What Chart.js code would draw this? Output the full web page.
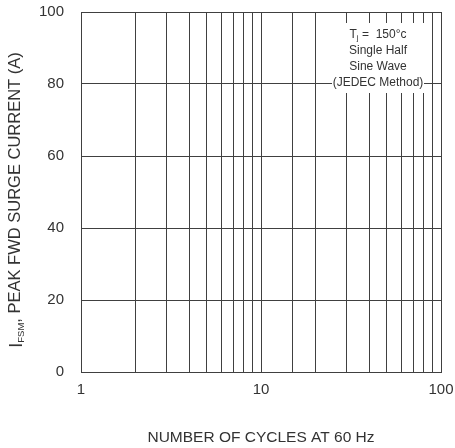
<!DOCTYPE html>
<html>
<head>
<meta charset="utf-8">
<script src="https://cdn.jsdelivr.net/npm/chart.js@4"></script>
<style>
html, body { margin: 0; padding: 0; background: #fff; }
#wrap { width: 455px; height: 448px; position: relative; }
</style>
</head>
<body>
<div id="wrap"><canvas id="surge"></canvas></div>
<script>
// 軸の範囲・目盛り
const xMin = 1;
const xMax = 100;
const xTickLabels = [1, 10, 100];
const yMin = 0;
const yMax = 100;
const yStep = 20;

// 軸タイトル・注記
const xTitle = 'NUMBER OF CYCLES AT 60 Hz';
const yTitleParts = ['I', 'FSM', ', PEAK FWD SURGE CURRENT (A)'];
const noteLines = [
    [['T', ''], ['j', 'sub'], [' =  150°c', '']],
    [['Single Half', '']],
    [['Sine Wave', '']],
    [['(JEDEC Method)', '']]
];

const FONT = "'Liberation Sans', Arial, Helvetica, sans-serif";
const GRID = '#404040';
const TEXT = '#333333';

// 右上の注記ボックス（グリッドの上に白抜き）
const notePlugin = {
    id: 'note',
    afterDatasetsDraw(chart) {
        const { ctx, chartArea } = chart;
        const boxRight = chartArea.right - 17;
        const boxW = 92;
        const boxTop = chartArea.top + 11;
        const boxH = 70;
        const cx = boxRight - boxW / 2;

        ctx.save();
        ctx.fillStyle = '#fff';
        ctx.fillRect(boxRight - boxW, boxTop, boxW, boxH);
        ctx.fillStyle = TEXT;
        ctx.textBaseline = 'middle';

        noteLines.forEach((segs, i) => {
            const y = boxTop + 12 + i * 16;
            // 幅を測ってから中央揃え
            let total = 0;
            segs.forEach(([t, kind]) => {
                ctx.font = (kind === 'sub' ? '8px ' : '12px ') + FONT;
                total += ctx.measureText(t).width;
            });
            let x = cx - total / 2;
            ctx.textAlign = 'left';
            segs.forEach(([t, kind]) => {
                ctx.font = (kind === 'sub' ? '8px ' : '12px ') + FONT;
                ctx.fillText(t, x, kind === 'sub' ? y + 3 : y);
                x += ctx.measureText(t).width;
            });
        });
        ctx.restore();
    }
};

// 縦軸タイトル（下付き文字付き）
const yTitlePlugin = {
    id: 'yTitle',
    afterDraw(chart) {
        const { ctx, chartArea } = chart;
        const styles = [
            { size: 18, dy: 2.5 },
            { size: 9.5, dy: 4 },
            { size: 16.5, dy: 0 }
        ];
        ctx.save();
        ctx.fillStyle = TEXT;
        ctx.textBaseline = 'alphabetic';
        ctx.textAlign = 'left';

        let total = 0;
        yTitleParts.forEach((t, i) => {
            ctx.font = styles[i].size + 'px ' + FONT;
            total += ctx.measureText(t).width;
        });
        const centerY = (chartArea.top + chartArea.bottom) / 2 + 8;
        ctx.translate(19.5, centerY + total / 2);
        ctx.rotate(-Math.PI / 2);
        let x = 0;
        yTitleParts.forEach((t, i) => {
            ctx.font = styles[i].size + 'px ' + FONT;
            ctx.fillText(t, x, styles[i].dy);
            x += ctx.measureText(t).width;
        });
        ctx.restore();
    }
};

const ctx = document.getElementById('surge').getContext('2d');

new Chart(ctx, {
    type: 'scatter',
    data: { datasets: [{ data: [] }] },
    options: {
        responsive: true,
        maintainAspectRatio: false,
        animation: false,
        layout: { padding: { left: 0, right: 14, top: 12, bottom: 0 } },
        plugins: {
            legend: { display: false },
            tooltip: { enabled: false }
        },
        scales: {
            x: {
                type: 'logarithmic',
                min: xMin,
                max: xMax,
                grid: { color: GRID, lineWidth: 1, drawTicks: false },
                border: { color: GRID, width: 1 },
                ticks: {
                    autoSkip: false,
                    maxRotation: 0,
                    padding: 9,
                    color: TEXT,
                    font: { size: 15, family: FONT },
                    callback: (value) => xTickLabels.includes(value) ? String(value) : ''
                },
                title: {
                    display: true,
                    text: xTitle,
                    color: TEXT,
                    font: { size: 15.5, family: FONT },
                    padding: { top: 0, bottom: 1 }
                },
                afterFit: (scale) => {
                    scale.height = 76;
                    // ラベルのはみ出し分は layout.padding で確保する
                    scale.paddingLeft = 0;
                    scale.paddingRight = 0;
                }
            },
            y: {
                min: yMin,
                max: yMax,
                grid: { color: GRID, lineWidth: 1, drawTicks: false },
                border: { color: GRID, width: 1 },
                ticks: {
                    stepSize: yStep,
                    padding: 17,
                    color: TEXT,
                    font: { size: 15, family: FONT }
                },
                afterFit: (scale) => {
                    scale.width = 81;
                    scale.paddingTop = 0;
                    scale.paddingBottom = 0;
                }
            }
        }
    },
    plugins: [notePlugin, yTitlePlugin]
});
</script>
</body>
</html>
